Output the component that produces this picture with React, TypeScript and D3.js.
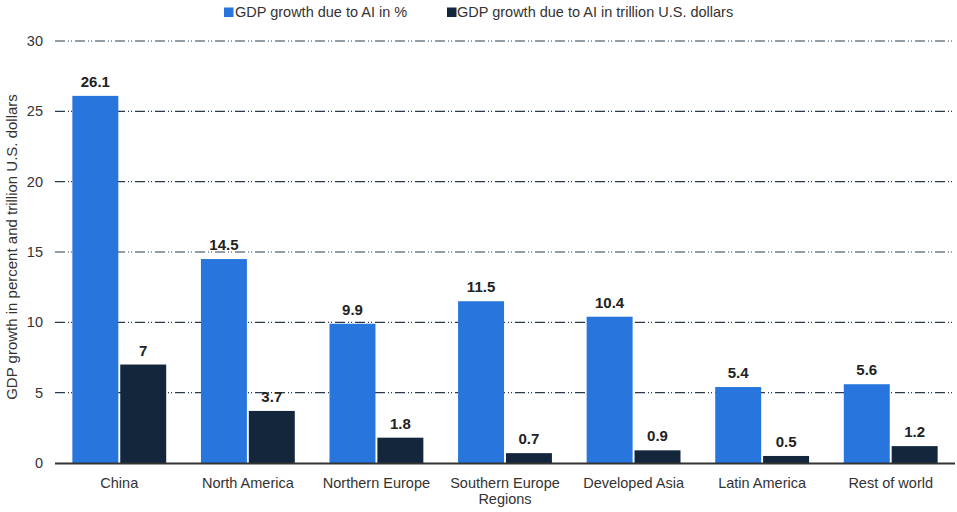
import React from "react";
import * as d3 from "d3";

const categories = ["China", "North America", "Northern Europe", "Southern Europe", "Developed Asia", "Latin America", "Rest of world"];
const seriesNames = ["GDP growth due to AI in %", "GDP growth due to AI in trillion U.S. dollars"];
const percentValues = [26.1, 14.5, 9.9, 11.5, 10.4, 5.4, 5.6];
const trillionValues = [7, 3.7, 1.8, 0.7, 0.9, 0.5, 1.2];
const yTicks = [0, 5, 10, 15, 20, 25, 30];
const colors = ["#2876dd", "#13263b"];

const W = 957, H = 512;
const M = { left: 55, right: 2, top: 41, bottom: 49 };
const FONT = "'Liberation Sans', Arial, sans-serif";

export default function App() {
  const x = d3.scaleBand<string>().domain(categories).range([M.left, W - M.right]).paddingInner(0.27).paddingOuter(0.135);
  const inner = d3.scaleBand<number>().domain([0, 1]).range([0, x.bandwidth()]).paddingInner(0.04);
  const y = d3.scaleLinear().domain([0, 30]).range([H - M.bottom, M.top]);
  const series = [percentValues, trillionValues];
  const fmt = (v: number) => String(v);

  return (
    <svg width={W} height={H} style={{ position: "absolute", left: 0, top: 0, background: "#fff" }} fontFamily={FONT}>
      {/* legend */}
      <g>
        <rect x={224} y={7.5} width={9.5} height={9.5} fill={colors[0]} />
        <text x={235} y={17} fontSize={14.5} fill="#333">{seriesNames[0]}</text>
        <rect x={447} y={7.5} width={9.5} height={9.5} fill={colors[1]} />
        <text x={457} y={17} fontSize={14.5} fill="#333">{seriesNames[1]}</text>
      </g>
      {/* grid */}
      {yTicks.filter(t => t > 0).map(t => (
        <line key={t} x1={M.left} x2={W - M.right} y1={y(t)} y2={y(t)} stroke="#2b3a4a" strokeWidth={1.2} strokeDasharray="10,3,1,2,1,3" />
      ))}
      {yTicks.map(t => (
        <text key={"l" + t} x={43} y={y(t) + 5} textAnchor="end" fontSize={14.5} fill="#333">{t}</text>
      ))}
      {/* bars */}
      {categories.map((c, i) => (
        <g key={c} transform={`translate(${x(c)},0)`}>
          {series.map((s, k) => (
            <g key={k}>
              <rect x={inner(k)} y={y(s[i])} width={inner.bandwidth()} height={y(0) - y(s[i])} fill={colors[k]} />
              <text x={(inner(k) as number) + inner.bandwidth() / 2} y={y(s[i]) - 9} textAnchor="middle" fontSize={15} fontWeight="bold" fill="#222">{fmt(s[i])}</text>
            </g>
          ))}
        </g>
      ))}
      {/* baseline */}
      <line x1={M.left} x2={W - M.right} y1={y(0) + 0.5} y2={y(0) + 0.5} stroke="#333" strokeWidth={2} />
      {categories.map(c => (
        <text key={"c" + c} x={(x(c) as number) + x.bandwidth() / 2} y={488} textAnchor="middle" fontSize={14.5} fill="#333">{c}</text>
      ))}
      <text x={(M.left + W - M.right) / 2} y={504} textAnchor="middle" fontSize={14.5} fill="#333">Regions</text>
      <text transform={`translate(17,${247}) rotate(-90)`} textAnchor="middle" fontSize={15} fill="#333">GDP growth in percent and trillion U.S. dollars</text>
    </svg>
  );
}
